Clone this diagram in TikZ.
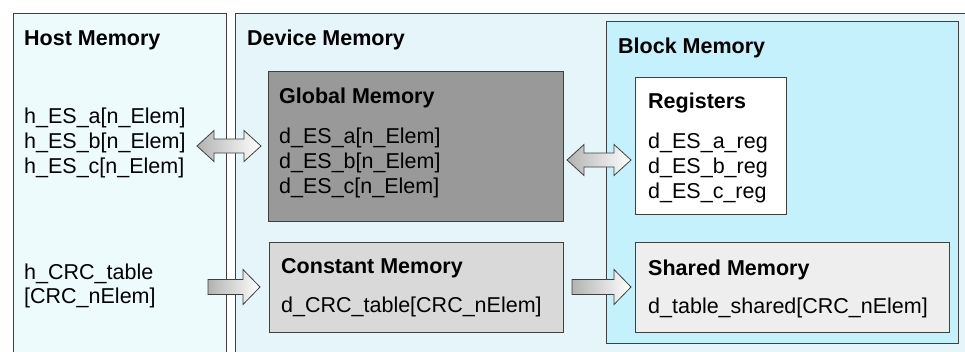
\documentclass[tikz,border=0pt]{standalone}
\usepackage{fontspec}
\setmainfont{Liberation Sans}
\usetikzlibrary{calc}
\definecolor{hostfill}{HTML}{EEFBFD}
\definecolor{devfill}{HTML}{E6F5FA}
\definecolor{blockfill}{HTML}{C4F1FB}
\definecolor{globfill}{HTML}{999999}
\definecolor{constfill}{HTML}{D9D9D9}
\definecolor{sharedfill}{HTML}{EEEEEE}
\definecolor{edge}{HTML}{404040}
\newcommand\fatdbl[2]{%
  \path[fatarrow] (#1) -- ($(#1)+(17,-15.5)$) -- ($(#1)+(17,-7)$) -- ($(#2)+(-17,-7)$) -- ($(#2)+(-17,-15.5)$) -- (#2)
    -- ($(#2)+(-17,15.5)$) -- ($(#2)+(-17,7)$) -- ($(#1)+(17,7)$) -- ($(#1)+(17,15.5)$) -- cycle;}
\newcommand\fatsgl[2]{%
  \path[fatarrow] ($(#1)+(0,-7.5)$) -- ($(#2)+(-17,-7.5)$) -- ($(#2)+(-17,-17.5)$) -- (#2)
    -- ($(#2)+(-17,17.5)$) -- ($(#2)+(-17,7.5)$) -- ($(#1)+(0,7.5)$) -- cycle;}
\begin{document}
\begin{tikzpicture}[x=1pt,y=-1pt,
  box/.style={draw=edge, line width=1pt, anchor=north west, inner sep=0pt},
  ttl/.style={anchor=base west, inner sep=0pt, font=\fontsize{21.5}{25}\selectfont\bfseries},
  txt/.style={anchor=base west, inner sep=0pt, font=\fontsize{21.5}{25}\selectfont},
  fatarrow/.style={draw=edge, line width=0.8pt, left color=gray!60, right color=white, line join=miter}]
\clip (0,0) rectangle (965,351);
\fill[white] (0,0) rectangle (965,351);
% outer regions
\node[box, line width=1.2pt, fill=hostfill, minimum width=213pt, minimum height=360pt] (host) at (13,13) {};
\node[box, line width=1.2pt, fill=devfill, minimum width=740pt, minimum height=360pt] (dev) at (235,13) {};
\node[box, fill=blockfill, minimum width=352pt, minimum height=322pt] (block) at (606,21) {};
% inner boxes
\node[box, fill=globfill, minimum width=295pt, minimum height=150pt] (glob) at (268,71) {};
\node[box, fill=constfill, minimum width=294pt, minimum height=90pt] (const) at (269,242) {};
\node[box, fill=white, minimum width=151pt, minimum height=137pt] (reg) at (635,77) {};
\node[box, fill=sharedfill, minimum width=314pt, minimum height=90pt] (shared) at (635,242) {};
% titles
\node[ttl] (thost) at (24,45) {Host Memory};
\node[ttl] (tdev) at (247,45) {Device Memory};
\node[ttl] (tblock) at (618,53) {Block Memory};
\node[ttl] (tglob) at (279,103) {Global Memory};
\node[ttl] (tconst) at (281,273) {Constant Memory};
\node[ttl] (treg) at (648,108) {Registers};
\node[ttl] (tshared) at (648,275) {Shared Memory};
% texts
\node[txt] (ha) at (24,123) {h\_ES\_a[n\_Elem]};
\node[txt] (hb) at (24,148) {h\_ES\_b[n\_Elem]};
\node[txt] (hc) at (24,173) {h\_ES\_c[n\_Elem]};
\node[txt] (hcrc1) at (24,279) {h\_CRC\_table};
\node[txt] (hcrc2) at (24,303) {[CRC\_nElem]};
\node[txt] (da) at (279,143) {d\_ES\_a[n\_Elem]};
\node[txt] (db) at (279,168) {d\_ES\_b[n\_Elem]};
\node[txt] (dc) at (279,193) {d\_ES\_c[n\_Elem]};
\node[txt] (dcrc) at (281,312) {d\_CRC\_table[CRC\_nElem]};
\node[txt] (ra) at (648,148) {d\_ES\_a\_reg};
\node[txt] (rb) at (648,173) {d\_ES\_b\_reg};
\node[txt] (rc) at (648,198) {d\_ES\_c\_reg};
\node[txt] (sh) at (648,313) {d\_table\_shared[CRC\_nElem]};
% arrows
\coordinate (a1s) at (197,146); \coordinate (a1e) at (261,146);
\coordinate (a2s) at (208,287); \coordinate (a2e) at (260,287);
\coordinate (a3s) at (567,160); \coordinate (a3e) at (631,160);
\coordinate (a4s) at (572,287); \coordinate (a4e) at (631,287);
\fatdbl{a1s}{a1e}
\fatsgl{a2s}{a2e}
\fatdbl{a3s}{a3e}
\fatsgl{a4s}{a4e}
\end{tikzpicture}
\end{document}
